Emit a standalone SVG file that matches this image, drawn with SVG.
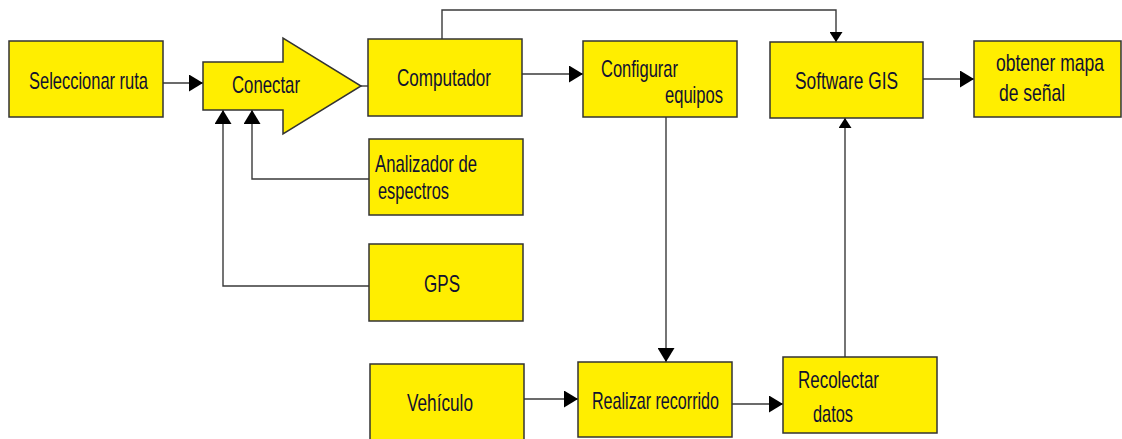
<svg xmlns="http://www.w3.org/2000/svg" width="1122" height="439" viewBox="0 0 1122 439">
<style>
.box{fill:#FFEE00;stroke:#333333;stroke-width:1.5}
.t{font-family:"Liberation Sans",Arial,sans-serif;font-size:24px;fill:#111130}
.c{fill:none;stroke:#3a3a3a;stroke-width:1.4}
</style>
<defs>
<marker id="ah" viewBox="0 0 14 17" refX="14" refY="8.5" markerWidth="14" markerHeight="17" markerUnits="userSpaceOnUse" orient="auto">
<path d="M0,0 L14,8.5 L0,17 Z" fill="#000"/>
</marker>
<marker id="as" viewBox="0 0 10 13" refX="10" refY="6.5" markerWidth="10" markerHeight="13" markerUnits="userSpaceOnUse" orient="auto">
<path d="M0,0 L10,6.5 L0,13 Z" fill="#000"/>
</marker>
</defs>
<rect width="1122" height="439" fill="#ffffff"/>
<g id="connectors">
<path class="c" d="M163,83 L203,83" marker-end="url(#ah)"/>
<path class="c" d="M361,86 L368,86"/>
<path class="c" d="M522,74 L583,74" marker-end="url(#ah)"/>
<path class="c" d="M442,39 L442,10 L836,10 L836,42" marker-end="url(#as)"/>
<path class="c" d="M923,79 L974,79" marker-end="url(#ah)"/>
<path class="c" d="M369,179 L252,179 L252,110" marker-end="url(#ah)"/>
<path class="c" d="M369,286 L223,286 L223,110" marker-end="url(#ah)"/>
<path class="c" d="M666,117 L666,362" marker-end="url(#ah)"/>
<path class="c" d="M524,399 L578,399" marker-end="url(#ah)"/>
<path class="c" d="M732,404 L783,404" marker-end="url(#ah)"/>
<path class="c" d="M845,357 L845,118" marker-end="url(#as)"/>
</g>
<g id="seleccionar">
<rect class="box" x="9" y="41" width="154" height="76"/>
<text class="t" x="29" y="89" font-size="26" textLength="119" lengthAdjust="spacingAndGlyphs">Seleccionar ruta</text>
</g>
<g id="conectar">
<polygon class="box" points="203,62 283,62 283,38 361,86 283,134 283,110 203,110"/>
<text class="t" x="232" y="93" font-size="25" textLength="68" lengthAdjust="spacingAndGlyphs">Conectar</text>
</g>
<g id="computador">
<rect class="box" x="368" y="39" width="154" height="77"/>
<text class="t" x="397" y="86" font-size="26" textLength="94" lengthAdjust="spacingAndGlyphs">Computador</text>
</g>
<g id="configurar">
<rect class="box" x="583" y="41" width="154" height="76"/>
<text class="t" x="601" y="77" font-size="26" textLength="77" lengthAdjust="spacingAndGlyphs">Configurar</text>
<text class="t" x="665" y="103" font-size="25" textLength="58" lengthAdjust="spacingAndGlyphs">equipos</text>
</g>
<g id="software">
<rect class="box" x="770" y="42" width="153" height="76"/>
<text class="t" x="795" y="89" font-size="25" textLength="103" lengthAdjust="spacingAndGlyphs">Software GIS</text>
</g>
<g id="obtener">
<rect class="box" x="974" y="41" width="147" height="76"/>
<text class="t" transform="translate(996,71) scale(0.73,1)" font-size="23">obtener mapa</text>
<text class="t" transform="translate(999,101) scale(0.73,1)" font-size="23">de señal</text>
</g>
<g id="analizador">
<rect class="box" x="369" y="139" width="154" height="76"/>
<text class="t" x="375" y="172" textLength="102" lengthAdjust="spacingAndGlyphs">Analizador de</text>
<text class="t" x="378" y="199" textLength="71" lengthAdjust="spacingAndGlyphs">espectros</text>
</g>
<g id="gps">
<rect class="box" x="369" y="244" width="154" height="77"/>
<text class="t" x="424" y="292" textLength="36" lengthAdjust="spacingAndGlyphs">GPS</text>
</g>
<g id="vehiculo">
<rect class="box" x="370" y="364" width="154" height="78"/>
<text class="t" x="407" y="411" font-size="25" textLength="66" lengthAdjust="spacingAndGlyphs">Vehículo</text>
</g>
<g id="realizar">
<rect class="box" x="578" y="362" width="154" height="75"/>
<text class="t" x="592" y="409" textLength="127" lengthAdjust="spacingAndGlyphs">Realizar recorrido</text>
</g>
<g id="recolectar">
<rect class="box" x="783" y="357" width="154" height="76"/>
<text class="t" x="798" y="388" textLength="81" lengthAdjust="spacingAndGlyphs">Recolectar</text>
<text class="t" x="813" y="422" textLength="40" lengthAdjust="spacingAndGlyphs">datos</text>
</g>
</svg>
